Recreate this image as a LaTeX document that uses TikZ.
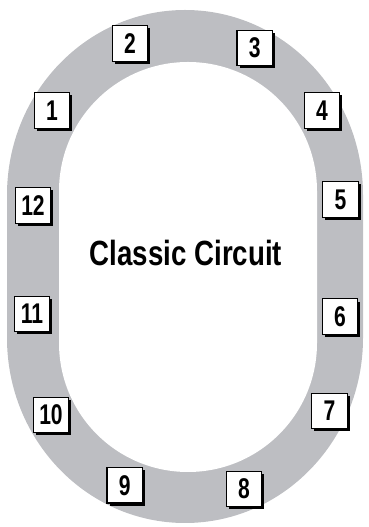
\documentclass[tikz,border=0pt]{standalone}
\usepackage{fontspec}
\setmainfont{Liberation Sans}[FakeStretch=0.79]
\newfontfamily\numfont{Liberation Sans}[FakeStretch=0.74]
\usetikzlibrary{shadows}
\definecolor{track}{RGB}{189,190,194}
\begin{document}
\begin{tikzpicture}[x=1pt,y=1pt,
  numbox/.style={draw=black, fill=white, line width=1.1pt, minimum size=35.5pt, inner sep=0pt,
    font=\numfont\fontsize{28.5}{28.5}\selectfont\bfseries,
    general shadow={shadow xshift=2.6pt, shadow yshift=-2.6pt, fill=black}},
  titletext/.style={font=\fontsize{35}{35}\selectfont\bfseries}]
\useasboundingbox (0,0) rectangle (368,527);
% outer track
\fill[track] (7,189) -- (7,332) arc[start angle=180,end angle=0,x radius=178,y radius=185]
  -- (363,189) arc[start angle=0,end angle=-180,x radius=178,y radius=185] -- cycle;
% infield
\fill[white] (59,184) -- (59,336) arc[start angle=180,end angle=0,x radius=129,y radius=129]
  -- (317,184) arc[start angle=0,end angle=-180,x radius=129,y radius=129] -- cycle;
\node[titletext] (title) at (186,274) {Classic Circuit};
\node[numbox] (n1) at (52,416.5) {1};
\node[numbox] (n2) at (130,483.5) {2};
\node[numbox] (n3) at (254.7,479) {3};
\node[numbox] (n4) at (322,416.5) {4};
\node[numbox] (n5) at (340.5,327.5) {5};
\node[numbox] (n6) at (340,210.3) {6};
\node[numbox] (n7) at (329.5,116) {7};
\node[numbox] (n8) at (244,38) {8};
\node[numbox] (n9) at (124.7,41.7) {9};
\node[numbox] (n10) at (51,112) {10};
\node[numbox] (n11) at (32,213) {11};
\node[numbox] (n12) at (33,321.5) {12};
\end{tikzpicture}
\end{document}
